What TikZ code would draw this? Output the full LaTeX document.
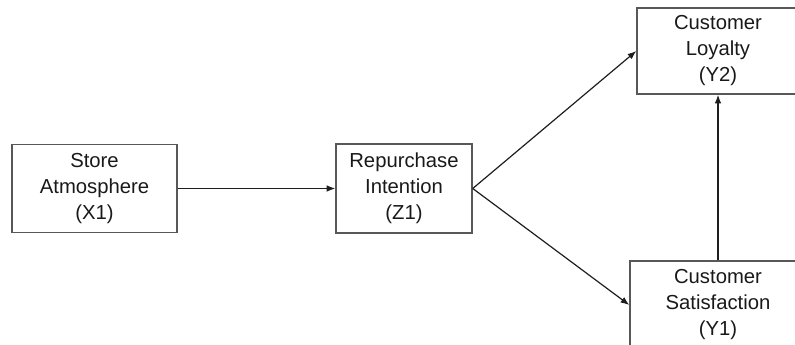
\documentclass[tikz,border=0pt]{standalone}
\usepackage{fontspec}
\setmainfont{Liberation Sans}
\usetikzlibrary{arrows.meta}

\tikzset{every picture/.style={line width=0.75pt}}
\tikzset{
  varbox/.style={draw={rgb,255:red,88;green,88;blue,88}, line width=1.1pt, align=center, inner sep=0pt,
    font=\fontsize{15.2pt}{19.5pt}\selectfont, text={rgb,255:red,25;green,25;blue,25}},
  path arrow/.style={draw={rgb,255:red,30;green,30;blue,30}, line width=0.9pt, -{Latex[length=6.5pt,width=5pt]}}
}

\begin{document}
\begin{tikzpicture}[x=0.75pt,y=0.75pt,yscale=-1,xscale=1]
	\useasboundingbox (0,0) rectangle (795,345);
	\clip (0,0) rectangle (795,345);

	%Shape: Rectangle [id:x1]
	\node [varbox, minimum width=165*0.75pt, minimum height=88*0.75pt] (x1) at (94.5,188.5) {Store\\Atmosphere\\(X1)};
	%Shape: Rectangle [id:z1]
	\node [varbox, minimum width=136*0.75pt, minimum height=89*0.75pt] (z1) at (404,188.5) {Repurchase\\Intention\\(Z1)};
	%Shape: Rectangle [id:y2]
	\node [varbox, minimum width=162*0.75pt, minimum height=86*0.75pt] (y2) at (718,51) {Customer\\Loyalty\\(Y2)};
	%Shape: Rectangle [id:y1]
	\node [varbox, minimum width=176*0.75pt, minimum height=88*0.75pt] (y1) at (718,305) {Customer\\Satisfaction\\(Y1)};

	%Straight Lines
	\draw [path arrow] (x1.east) -- (z1.west);
	\draw [path arrow] (z1.east) -- (y2.west);
	\draw [path arrow] (z1.east) -- (y1.west);
	\draw [path arrow] (y1.north) -- (y2.south);

\end{tikzpicture}
\end{document}
